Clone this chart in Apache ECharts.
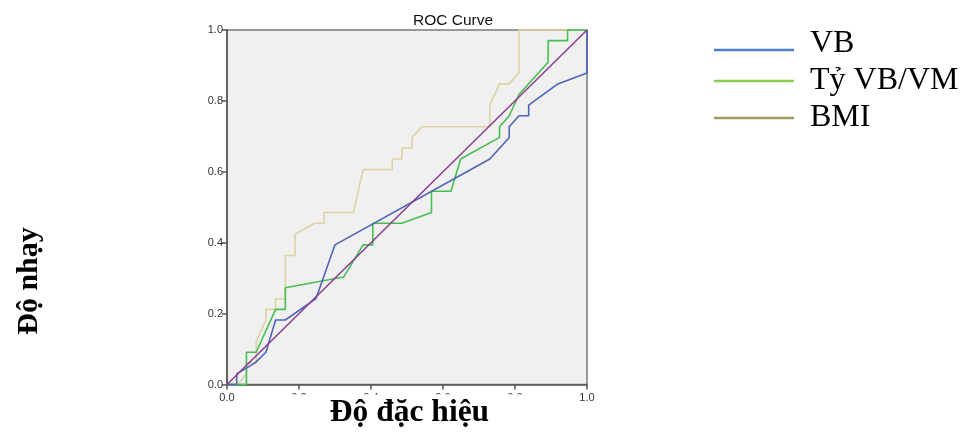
<!DOCTYPE html>
<html>
<head>
<meta charset="utf-8">
<script src="https://cdn.jsdelivr.net/npm/echarts@6/dist/echarts.min.js"></script>
<style>
  html, body { margin: 0; padding: 0; background: #fff; }
  #chart { width: 971px; height: 439px; }
</style>
</head>
<body>
<div id="chart"></div>
<script>
// ROC curves: [1 - specificity, sensitivity]
const vbCurve = [
  [0, 0], [0.027, 0], [0.027, 0.030], [0.078, 0.061], [0.108, 0.091],
  [0.135, 0.182], [0.162, 0.182], [0.247, 0.242], [0.300, 0.394],
  [0.730, 0.636], [0.784, 0.697], [0.784, 0.727], [0.811, 0.758],
  [0.838, 0.758], [0.838, 0.788], [0.919, 0.848], [1, 0.879], [1, 1]
];
const ratioCurve = [
  [0, 0], [0.054, 0], [0.054, 0.091], [0.081, 0.091], [0.135, 0.212],
  [0.162, 0.212], [0.162, 0.273], [0.324, 0.303], [0.378, 0.394],
  [0.405, 0.394], [0.405, 0.455], [0.486, 0.455], [0.568, 0.485],
  [0.568, 0.545], [0.622, 0.545], [0.649, 0.636], [0.757, 0.697],
  [0.757, 0.727], [0.784, 0.758], [0.811, 0.818], [0.892, 0.909],
  [0.892, 0.970], [0.946, 0.970], [0.946, 1], [1, 1]
];
const bmiCurve = [
  [0, 0], [0.030, 0], [0.054, 0.030], [0.054, 0.061], [0.081, 0.061],
  [0.081, 0.121], [0.108, 0.182], [0.108, 0.212], [0.135, 0.212],
  [0.135, 0.242], [0.162, 0.242], [0.162, 0.364], [0.189, 0.364],
  [0.189, 0.424], [0.243, 0.455], [0.270, 0.455], [0.270, 0.485],
  [0.351, 0.485], [0.378, 0.606], [0.459, 0.606], [0.459, 0.636],
  [0.486, 0.636], [0.486, 0.667], [0.514, 0.667], [0.514, 0.697],
  [0.541, 0.727], [0.730, 0.727], [0.730, 0.788], [0.757, 0.848],
  [0.784, 0.848], [0.811, 0.879], [0.811, 1], [1, 1]
];
const referenceLine = [[0, 0], [1, 1]];

const seriesNames = ['VB', 'Tỷ VB/VM', 'BMI'];

const chart = echarts.init(document.getElementById('chart'), null, { renderer: 'canvas' });

const tickFont = { fontFamily: 'Liberation Sans, Arial, sans-serif', fontSize: 11, color: '#333' };
const legendFont = 'Liberation Serif, Times New Roman, serif';

// Legend swatch: an 80-wide bar inside a 30-high box, bar centre at `mid`.
// The zero-area subpaths at the top and bottom only pin the box size.
function swatch(mid) {
  const a = mid - 1.25, b = mid + 1.25;
  return 'path://M0,0L80,0L80,0Z' +
    'M0,' + a + 'L80,' + a + 'L80,' + b + 'L0,' + b + 'Z' +
    'M0,30L80,30L80,30Z';
}

const option = {
  backgroundColor: '#ffffff',
  animation: false,
  title: {
    text: 'ROC Curve',
    left: 448, top: 8, textAlign: 'center',
    textStyle: { fontFamily: 'Liberation Sans, Arial, sans-serif', fontSize: 15.5, fontWeight: 'normal', color: '#111' }
  },
  grid: {
    left: 227, right: 384, top: 30, bottom: 54.5,
    show: true, backgroundColor: '#f0f0f0', borderColor: '#7a7a7a', borderWidth: 1.5
  },
  xAxis: {
    type: 'value', min: 0, max: 1, interval: 0.2,
    axisLine: { show: true, lineStyle: { color: '#555', width: 1.5 } },
    axisTick: { show: true, length: 5, lineStyle: { color: '#555', width: 1.5 } },
    axisLabel: Object.assign({ margin: 8, formatter: v => v.toFixed(1) }, tickFont),
    splitLine: { show: false }
  },
  yAxis: {
    type: 'value', min: 0, max: 1, interval: 0.2,
    axisLine: { show: true, lineStyle: { color: '#555', width: 1.5 } },
    axisTick: { show: true, length: 5, lineStyle: { color: '#555', width: 1.5 } },
    axisLabel: Object.assign({ margin: 4, formatter: v => v.toFixed(1) }, tickFont),
    splitLine: { show: false }
  },
  legend: {
    orient: 'vertical', left: 709, top: 23, itemGap: 5,
    itemWidth: 80, itemHeight: 30,
    data: [
      { name: seriesNames[0], icon: swatch(21), itemStyle: { color: '#4a7fcf', borderWidth: 0, borderColor: 'transparent' } },
      { name: seriesNames[1], icon: swatch(15), itemStyle: { color: '#86cc55', borderWidth: 0, borderColor: 'transparent' } },
      { name: seriesNames[2], icon: swatch(15), itemStyle: { color: '#a09d5c', borderWidth: 0, borderColor: 'transparent' } }
    ],
    textStyle: {
      fontFamily: legendFont, fontSize: 32, color: '#000',
      lineHeight: 30, padding: [0, 0, 0, 11]
    }
  },
  series: [
    {
      name: seriesNames[2], type: 'line', data: bmiCurve, showSymbol: false, clip: false,
      lineStyle: { color: '#dcd4a2', width: 1.6 }, itemStyle: { color: '#dcd4a2' }, z: 2
    },
    {
      name: seriesNames[1], type: 'line', data: ratioCurve, showSymbol: false, clip: false,
      lineStyle: { color: '#46bf50', width: 1.6 }, itemStyle: { color: '#46bf50' }, z: 3
    },
    {
      name: seriesNames[0], type: 'line', data: vbCurve, showSymbol: false, clip: false,
      lineStyle: { color: '#4f63b8', width: 1.6 }, itemStyle: { color: '#4f63b8' }, z: 4
    },
    {
      name: 'ref', type: 'line', data: referenceLine, showSymbol: false, clip: false,
      lineStyle: { color: '#8c3c92', width: 1.5 }, itemStyle: { color: '#8c3c92' }, z: 5
    }
  ],
  graphic: [
    // white band hiding the inner x tick labels beneath the axis title
    { type: 'rect', shape: { x: 242, y: 394.5, width: 330, height: 12 }, style: { fill: '#ffffff' }, z: 100 },
    {
      type: 'text', x: 409.5, y: 413, z: 101,
      style: {
        text: 'Độ đặc hiệu', align: 'center', verticalAlign: 'middle',
        font: 'bold 31.5px "Liberation Serif", "Times New Roman", serif', fill: '#000'
      }
    },
    {
      type: 'text', x: 29.5, y: 281, rotation: Math.PI / 2, z: 101,
      style: {
        text: 'Độ nhạy', align: 'center', verticalAlign: 'middle',
        font: 'bold 30px "Liberation Serif", "Times New Roman", serif', fill: '#000'
      }
    }
  ]
};

chart.setOption(option);
</script>
</body>
</html>
